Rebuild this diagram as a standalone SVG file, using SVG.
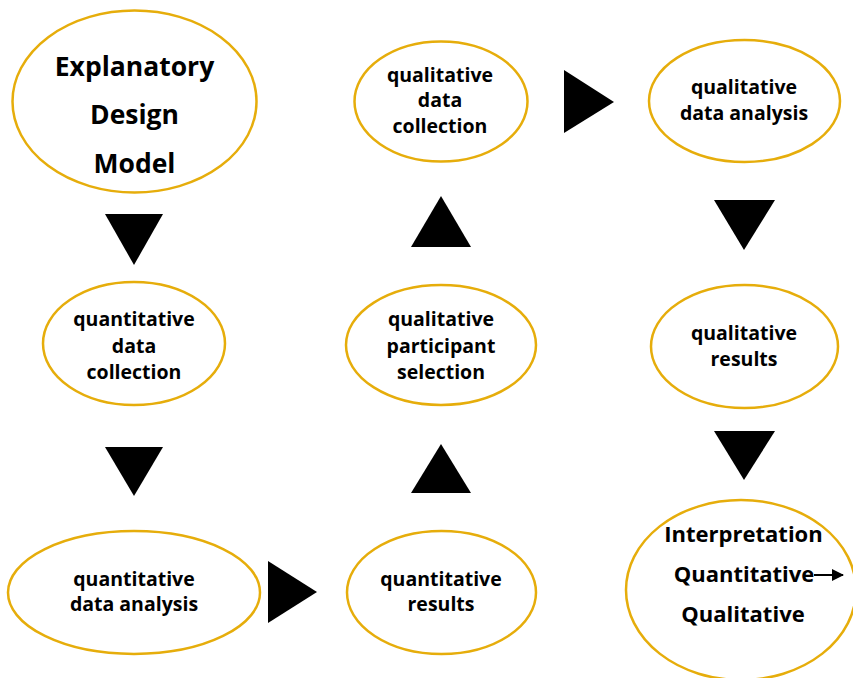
<svg xmlns="http://www.w3.org/2000/svg" width="853" height="678" viewBox="0 0 853 678">
  <defs>
    <style>
      .node ellipse { fill: #ffffff; stroke: #E6AD0B; stroke-width: 2.5; }
      .node text { font-family: "Open Sans", "Liberation Sans", sans-serif; font-weight: bold; fill: #000000; text-anchor: middle; }
      .sm { font-size: 19.5px; }
      .lg { font-size: 26.5px; }
      .md { font-size: 22px; }
      .tri { fill: #000000; }
    </style>
    <marker id="arrowhead" markerWidth="12" markerHeight="12" refX="11" refY="6" orient="auto" markerUnits="userSpaceOnUse">
      <path d="M0,0 L12,6 L0,12 Z" fill="#000000"/>
    </marker>
  </defs>
  <rect width="853" height="678" fill="#ffffff"/>

  <g id="connectors">
    <polygon class="tri" points="105,214 163,214 134,265"/>
    <polygon class="tri" points="105,447 163,447 134,496"/>
    <polygon class="tri" points="268,561 317,592 268,623"/>
    <polygon class="tri" points="411,493 471,493 441,444"/>
    <polygon class="tri" points="411,247 471,247 441,196"/>
    <polygon class="tri" points="564,70 614,102 564,133"/>
    <polygon class="tri" points="714,200 775,200 744,250"/>
    <polygon class="tri" points="714,431 775,431 744,480"/>
  </g>

  <g id="explanatory-design-model" class="node">
    <ellipse cx="134.5" cy="101.5" rx="122" ry="91"/>
    <text class="lg" x="134.5" y="76">Explanatory</text>
    <text class="lg" x="134.5" y="124">Design</text>
    <text class="lg" x="134.5" y="173">Model</text>
  </g>

  <g id="quantitative-data-collection" class="node">
    <ellipse cx="134" cy="343.5" rx="91" ry="61.5"/>
    <text class="sm" x="134" y="326">quantitative</text>
    <text class="sm" x="134" y="353">data</text>
    <text class="sm" x="134" y="379">collection</text>
  </g>

  <g id="quantitative-data-analysis" class="node">
    <ellipse cx="134" cy="592.5" rx="126" ry="61.5"/>
    <text class="sm" x="134" y="586">quantitative</text>
    <text class="sm" x="134" y="611">data analysis</text>
  </g>

  <g id="quantitative-results" class="node">
    <ellipse cx="441.5" cy="592.5" rx="94.5" ry="61.5"/>
    <text class="sm" x="441" y="586">quantitative</text>
    <text class="sm" x="441" y="611">results</text>
  </g>

  <g id="qualitative-participant-selection" class="node">
    <ellipse cx="441" cy="345" rx="95" ry="60"/>
    <text class="sm" x="441" y="326">qualitative</text>
    <text class="sm" x="441" y="353">participant</text>
    <text class="sm" x="441" y="379">selection</text>
  </g>

  <g id="qualitative-data-collection" class="node">
    <ellipse cx="441" cy="101.5" rx="86.5" ry="60"/>
    <text class="sm" x="440" y="82">qualitative</text>
    <text class="sm" x="440" y="107">data</text>
    <text class="sm" x="440" y="133">collection</text>
  </g>

  <g id="qualitative-data-analysis" class="node">
    <ellipse cx="744.5" cy="101" rx="95.5" ry="61"/>
    <text class="sm" x="744" y="94">qualitative</text>
    <text class="sm" x="744" y="120">data analysis</text>
  </g>

  <g id="qualitative-results" class="node">
    <ellipse cx="744.5" cy="346.5" rx="93.5" ry="61.5"/>
    <text class="sm" x="744" y="340">qualitative</text>
    <text class="sm" x="744" y="366">results</text>
  </g>

  <g id="interpretation" class="node">
    <ellipse cx="741" cy="590" rx="115" ry="90"/>
    <text class="md" x="743.5" y="542">Interpretation</text>
    <text class="md" x="744" y="582">Quantitative</text>
    <text class="md" x="743" y="622">Qualitative</text>
    <line x1="814" y1="575" x2="843" y2="575" stroke="#000000" stroke-width="2" marker-end="url(#arrowhead)"/>
  </g>
</svg>
